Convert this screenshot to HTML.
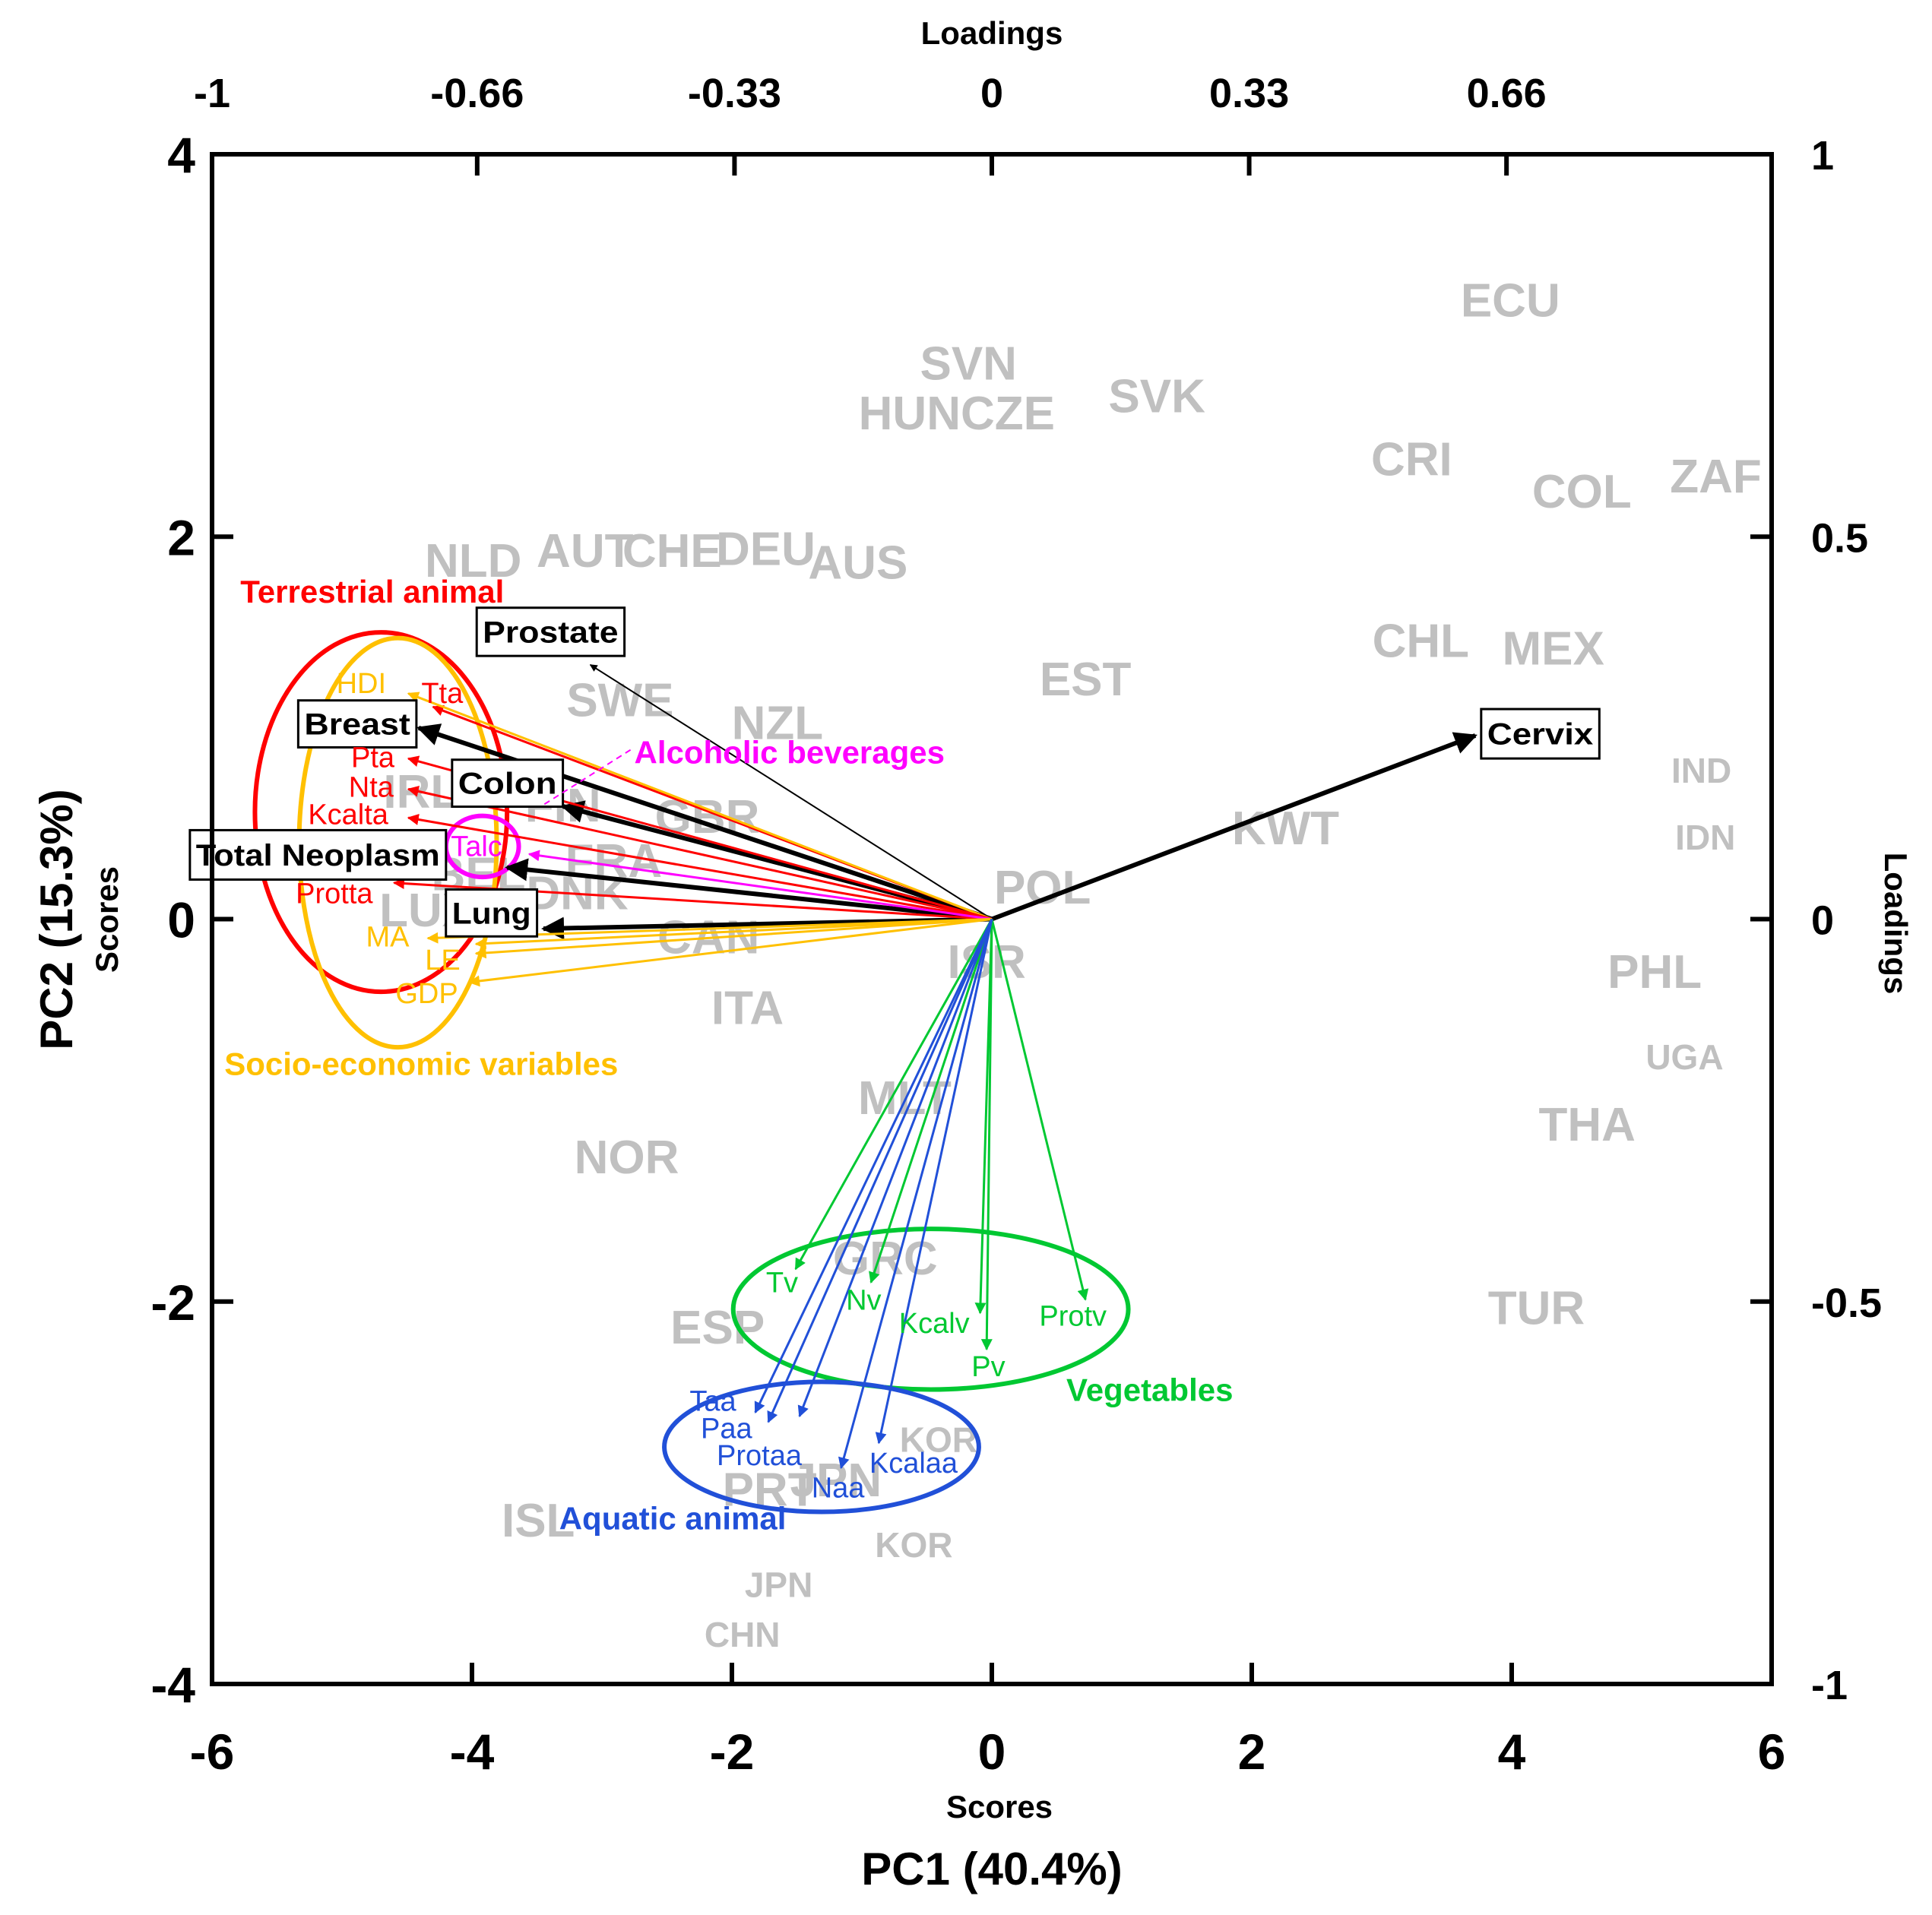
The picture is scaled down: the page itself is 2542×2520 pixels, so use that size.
<!DOCTYPE html>
<html><head><meta charset="utf-8"><style>
html,body{margin:0;padding:0;background:#fff}
svg{display:block;font-family:"Liberation Sans",Arial,sans-serif}
</style></head><body>
<svg id="chart" xmlns="http://www.w3.org/2000/svg" width="2542" height="2520" viewBox="0 0 2542 2520">
<defs>
<marker id="ah" viewBox="0 0 10 10" refX="9" refY="5" markerWidth="5" markerHeight="5" orient="auto-start-reverse"><path d="M0,0L10,5L0,10z" fill="context-stroke"/></marker>
</defs>
<g id="countries"></g>
<g id="ellipses"></g>
<g id="arrows"></g>
<g id="labels"></g>
<g id="axes"></g>
</svg>
<script>
const NS="http://www.w3.org/2000/svg";
const X0=279,X1=2331,Y0=203,Y1=2216;
function sx(v){return X0+(v+6)/12*(X1-X0);}
function sy(v){return Y1-(v+4)/8*(Y1-Y0);}
function dX(x){return 279+(x-170)*1.6196;}
function dY(y){return 203+(y-124)*1.626;}

const countryNames=["ECU","SVN","HUNCZE","SVK","CRI","COL","ZAF","NLD","AUT","CHE","DEU","AUS","CHL","MEX","EST","SWE","NZL","IND","IDN","KWT","GBR","IRL","FIN","FRA","BEL","DNK","POL","LUX","CAN","ISR","PHL","ITA","UGA","MLT","THA","NOR","GRC","ESP","TUR","KOR","PRT","JPN","ISL","KOR","JPN","CHN"];
const countryX=[3.99,-0.18,-0.27,1.27,3.23,4.54,5.57,-3.99,-3.13,-2.46,-1.74,-1.03,3.30,4.32,0.72,-2.86,-1.65,5.46,5.49,2.26,-2.19,-4.39,-3.30,-2.91,-3.95,-3.19,0.39,-4.35,-2.18,-0.04,5.10,-1.88,5.33,-0.67,4.58,-2.81,-0.82,-2.11,4.19,-0.41,-1.71,-1.20,-3.49,-0.60,-1.64,-1.92];
const countryY=[3.24,2.91,2.65,2.74,2.41,2.24,2.32,1.88,1.93,1.93,1.94,1.87,1.46,1.42,1.26,1.15,1.03,0.78,0.43,0.48,0.54,0.67,0.60,0.31,0.24,0.14,0.17,0.05,-0.09,-0.22,-0.27,-0.46,-0.72,-0.93,-1.07,-1.24,-1.77,-2.13,-2.03,-2.72,-2.98,-2.93,-3.14,-3.27,-3.48,-3.74];
const countrySize=[62,62,62,62,62,62,62,62,62,62,62,62,62,62,62,62,62,46,46,62,62,62,62,62,62,62,62,62,62,62,62,62,46,62,62,62,62,62,62,46,62,62,62,46,46,46];

const varNames=["Cervix","Prostate","Breast","Colon","Total Neoplasm","Lung","Tta","HDI","Pta","Nta","Kcalta","Protta","Talc","MA","LE","GDP","SE4","Tv","Nv","Kcalv","Pv","Protv","Taa","Paa","Protaa","Naa","Kcalaa"];
const varX=[3.72,-3.09,-4.41,-3.30,-3.73,-3.45,-4.30,-4.49,-4.49,-4.49,-4.49,-4.60,-3.56,-4.34,-3.97,-4.02,-3.97,-1.51,-0.93,-0.09,-0.04,0.72,-1.82,-1.72,-1.48,-1.16,-0.87];
const varY=[0.96,1.33,1.00,0.59,0.27,-0.05,1.11,1.18,0.84,0.68,0.53,0.19,0.34,-0.10,-0.18,-0.33,-0.13,-1.83,-1.90,-2.06,-2.25,-1.99,-2.58,-2.63,-2.60,-2.87,-2.74];
const varGroup=["k","kt","k","k","k","k","r","y","r","r","r","r","m","y","y","y","y","g","g","g","g","g","b","b","b","b","b"];
const COL={k:"#000",kt:"#000",r:"#ff0000",y:"#ffc000",m:"#ff00ff",g:"#00c832",b:"#2150d8"};

const cg=document.getElementById('countries');
for(let i=0;i<countryNames.length;i++){
  const t=document.createElementNS(NS,'text');
  
  
  t.setAttribute('x',sx(countryX[i]));t.setAttribute('y',sy(countryY[i])+countrySize[i]*0.36);
  t.setAttribute('text-anchor','middle');t.setAttribute('font-size',countrySize[i]);
  t.setAttribute('font-weight','bold');t.setAttribute('fill','#c0c0c0');
  t.textContent=countryNames[i];cg.appendChild(t);
}

const elCx=[-4.70,-4.57,-3.92,-0.47,-1.31];
const elCy=[0.56,0.40,0.38,-2.04,-2.76];
const elRx=[0.97,0.76,0.28,1.52,1.21];
const elRy=[0.94,1.07,0.16,0.42,0.34];
const elC=["#ff0000","#ffc000","#ff00ff","#00c832","#2150d8"];
const elN=["terrestrial-ellipse","socioeconomic-ellipse","talc-ellipse","vegetables-ellipse","aquatic-ellipse"];
const eg=document.getElementById('ellipses');
for(let i=0;i<elCx.length;i++){
  const e=document.createElementNS(NS,'ellipse');
  
  
  e.setAttribute('cx',sx(elCx[i]));e.setAttribute('cy',sy(elCy[i]));
  e.setAttribute('rx',elRx[i]*(X1-X0)/12);e.setAttribute('ry',elRy[i]*(Y1-Y0)/8);
  e.setAttribute('fill','none');e.setAttribute('stroke',elC[i]);e.setAttribute('stroke-width',6);
  eg.appendChild(e);
}

const ag=document.getElementById('arrows');
for(let i=0;i<varNames.length;i++){
  const l=document.createElementNS(NS,'line');
  
  
  l.setAttribute('x1',sx(0));l.setAttribute('y1',sy(0));
  l.setAttribute('x2',sx(varX[i]));l.setAttribute('y2',sy(varY[i]));
  const g=varGroup[i];
  l.setAttribute('stroke',COL[g]);
  l.setAttribute('stroke-width',g==='k'?6:(g==='kt'?2:3));
  l.setAttribute('marker-end','url(#ah)');
  ag.appendChild(l);
}

const lg=document.getElementById('labels');
function txt(name,s,x,y,size,color,bold,anchor){
  const t=document.createElementNS(NS,'text');
  
  
  t.setAttribute('x',x);t.setAttribute('y',y);t.setAttribute('font-size',size);
  t.setAttribute('fill',color);if(bold)t.setAttribute('font-weight','bold');
  if(anchor)t.setAttribute('text-anchor',anchor);
  t.textContent=s;lg.appendChild(t);return t;
}
const boxes=[["Prostate",385,491,120,39],["Breast",240,566,96,38],["Colon",365,614,90,38],["Total Neoplasm",152,671,208,40],["Lung",360,719,74,38],["Cervix",1201,573,96,40]];
boxes.forEach(b=>{
  const r=document.createElementNS(NS,'rect');
  
  
  r.setAttribute('x',dX(b[1]));r.setAttribute('y',dY(b[2]));
  r.setAttribute('width',b[3]*1.62);r.setAttribute('height',b[4]*1.626);
  r.setAttribute('fill','#fff');r.setAttribute('stroke','#000');r.setAttribute('stroke-width',3);
  lg.appendChild(r);
  const t=txt('label-'+b[0].toLowerCase().replace(/ /g,'-'),b[0],dX(b[1]+b[3]/2),dY(b[2]+b[4]/2)+14,40,'#000',true,'middle');
  t.setAttribute('textLength',b[3]*1.62-16);t.setAttribute('lengthAdjust','spacingAndGlyphs');
});
const vl=[["HDI",271,560,"#ffc000"],["Tta",340,568,"#ff0000"],["Pta",283,620,"#ff0000"],["Nta",281,644,"#ff0000"],["Kcalta",248,666,"#ff0000"],["Protta",238,730,"#ff0000"],["Talc",364,692,"#ff00ff"],["MA",295,765,"#ffc000"],["LE",343,784,"#ffc000"],["GDP",319,811,"#ffc000"],["Tv",620,1045,"#00c832"],["Nv",685,1059,"#00c832"],["Kcalv",728,1078,"#00c832"],["Pv",787,1113,"#00c832"],["Protv",842,1072,"#00c832"],["Taa",558,1141,"#2150d8"],["Paa",567,1163,"#2150d8"],["Protaa",580,1185,"#2150d8"],["Naa",657,1211,"#2150d8"],["Kcalaa",704,1191,"#2150d8"]];
vl.forEach(v=>txt('var-label-'+v[0].toLowerCase(),v[0],dX(v[1]),dY(v[2]),38,v[3],false));
const gl=[["Terrestrial animal",193,487,"#ff0000"],["Socio-economic variables",180,869,"#ffc000"],["Alcoholic beverages",513,617,"#ff00ff"],["Vegetables",864,1133,"#00c832"],["Aquatic animal",452,1237,"#2150d8"]];
gl.forEach(v=>txt('group-label-'+v[0].toLowerCase().replace(/ /g,'-'),v[0],dX(v[1]),dY(v[2]),42,v[3],true));
const dl=document.createElementNS(NS,'line');


dl.setAttribute('x1',dX(440));dl.setAttribute('y1',dY(650));dl.setAttribute('x2',dX(510));dl.setAttribute('y2',dY(606));
dl.setAttribute('stroke','#ff00ff');dl.setAttribute('stroke-width',2);dl.setAttribute('stroke-dasharray','8,6');
lg.appendChild(dl);

const ax=document.getElementById('axes');
const xTicks=[-6,-4,-2,0,2,4,6];
const yTicks=[-4,-2,0,2,4];
const topTicks=[-1,-0.66,-0.33,0,0.33,0.66];
const rightTicks=[-1,-0.5,0,0.5,1];
const fr=document.createElementNS(NS,'rect');


fr.setAttribute('x',X0);fr.setAttribute('y',Y0);fr.setAttribute('width',X1-X0);fr.setAttribute('height',Y1-Y0);
fr.setAttribute('fill','none');fr.setAttribute('stroke','#000');fr.setAttribute('stroke-width',6);
ax.appendChild(fr);
function tk(name,x1,y1,x2,y2){const l=document.createElementNS(NS,'line');
  
  
  l.setAttribute('x1',x1);l.setAttribute('y1',y1);l.setAttribute('x2',x2);l.setAttribute('y2',y2);
  l.setAttribute('stroke','#000');l.setAttribute('stroke-width',6);ax.appendChild(l);}
function at(name,s,x,y,size,anchor,bold,rot){const t=document.createElementNS(NS,'text');
  
  
  t.setAttribute('x',x);t.setAttribute('y',y);t.setAttribute('font-size',size);
  t.setAttribute('text-anchor',anchor);if(bold)t.setAttribute('font-weight','bold');
  if(rot)t.setAttribute('transform','rotate('+rot+' '+x+' '+y+')');
  t.textContent=s;ax.appendChild(t);}
xTicks.forEach(v=>{ if(v>-6&&v<6) tk('x-tick',sx(v),Y1,sx(v),Y1-28);
  at('x-tick-label',String(v),sx(v),Y1+112,66,'middle',true);});
yTicks.forEach(v=>{ if(v>-4&&v<4) tk('y-tick',X0,sy(v),X0+28,sy(v));
  at('y-tick-label',String(v),X0-22,sy(v)+24,66,'end',true);});
topTicks.forEach(v=>{ if(v>-1) tk('top-tick',sx(v*6),Y0,sx(v*6),Y0+28);
  at('top-tick-label',String(v),sx(v*6),Y0-62,54,'middle',true);});
rightTicks.forEach(v=>{ if(v>-1&&v<1) tk('right-tick',X1,sy(v*4),X1-28,sy(v*4));
  at('right-tick-label',String(v),X1+52,sy(v*4)+20,54,'start',true);});
at('top-axis-title','Loadings',1305,58,42,'middle',true);
at('bottom-scores-title','Scores',1315,2392,42,'middle',true);
at('x-axis-title','PC1 (40.4%)',1305,2480,60,'middle',true);
at('y-axis-title','PC2 (15.3%)',95,1210,60,'middle',true,-90);
at('y-scores-title','Scores',155,1210,42,'middle',true,-90);
at('right-axis-title','Loadings',2480,1215,42,'middle',true,90);
</script>
</body></html>
